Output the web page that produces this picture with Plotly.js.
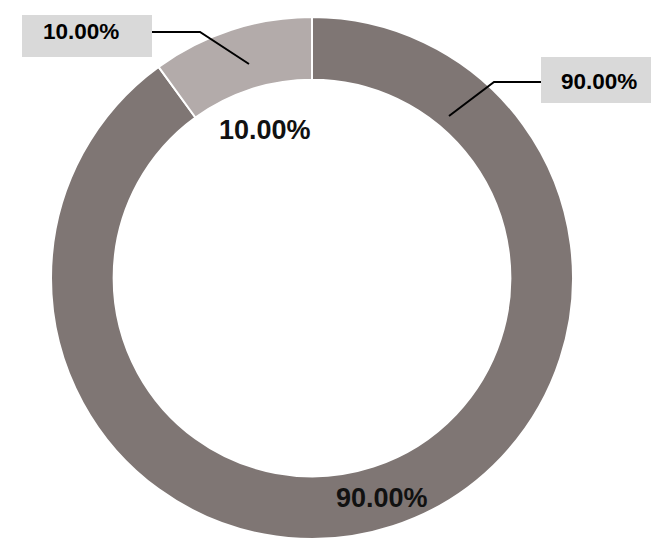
<!DOCTYPE html>
<html><head><meta charset="utf-8">
<script src="https://cdn.plot.ly/plotly-3.0.1.min.js"></script>
<style>html,body{margin:0;padding:0;background:#fff}#c{width:651px;height:539px}</style>
</head><body><div id="c"></div>
<script>
const categories = ['A', 'B'];
const values = [90, 10];
const colors = ['#7f7674', '#b3abaa'];

const total = values.reduce((a, b) => a + b, 0);
const pct = values.map(v => (v / total * 100).toFixed(2) + '%');
const W = 651, H = 539;
const px = x => x / W, py = y => 1 - y / H;

const font = {family: 'Liberation Sans, Arial, sans-serif', size: 22.5, color: '#000', weight: 700};
const fontBig = {family: 'Liberation Sans, Arial, sans-serif', size: 27, color: '#111', weight: 700};

const data = [{
  type: 'pie',
  labels: categories,
  values: values,
  hole: 0.76,
  sort: false,
  direction: 'clockwise',
  rotation: 0,
  textinfo: 'none',
  hoverinfo: 'none',
  marker: {colors: colors, line: {color: '#ffffff', width: 2}},
  domain: {x: [px(47), px(577)], y: [0, py(17)]},
  showlegend: false
}];

const layout = {
  width: W, height: H,
  margin: {l: 0, r: 0, t: 0, b: 0},
  paper_bgcolor: '#fff',
  showlegend: false,
  shapes: [
    {type: 'rect', xref: 'paper', yref: 'paper', x0: px(22), x1: px(152), y0: py(57), y1: py(15), fillcolor: '#d9d9d9', line: {width: 0}, layer: 'above'},
    {type: 'rect', xref: 'paper', yref: 'paper', x0: px(541), x1: px(651), y0: py(103), y1: py(57), fillcolor: '#d9d9d9', line: {width: 0}, layer: 'above'},
    {type: 'path', xref: 'paper', yref: 'paper', path: `M ${px(152)} ${py(32)} L ${px(200)} ${py(32)} L ${px(249)} ${py(64)}`, line: {color: '#000', width: 2}, layer: 'above'},
    {type: 'path', xref: 'paper', yref: 'paper', path: `M ${px(541)} ${py(82)} L ${px(494)} ${py(82)} L ${px(449)} ${py(116)}`, line: {color: '#000', width: 2}, layer: 'above'}
  ],
  annotations: [
    {xref: 'paper', yref: 'paper', x: px(81), y: py(31), text: '<b>' + pct[1] + '</b>', showarrow: false, font: font, xanchor: 'center', yanchor: 'middle'},
    {xref: 'paper', yref: 'paper', x: px(599), y: py(81), text: '<b>' + pct[0] + '</b>', showarrow: false, font: font, xanchor: 'center', yanchor: 'middle'},
    {xref: 'paper', yref: 'paper', x: px(264.5), y: py(130), text: '<b>' + pct[1] + '</b>', showarrow: false, font: fontBig, xanchor: 'center', yanchor: 'middle'},
    {xref: 'paper', yref: 'paper', x: px(382), y: py(498), text: '<b>' + pct[0] + '</b>', showarrow: false, font: fontBig, xanchor: 'center', yanchor: 'middle'}
  ]
};

Plotly.newPlot('c', data, layout, {displayModeBar: false, staticPlot: true});
</script>
</body></html>
